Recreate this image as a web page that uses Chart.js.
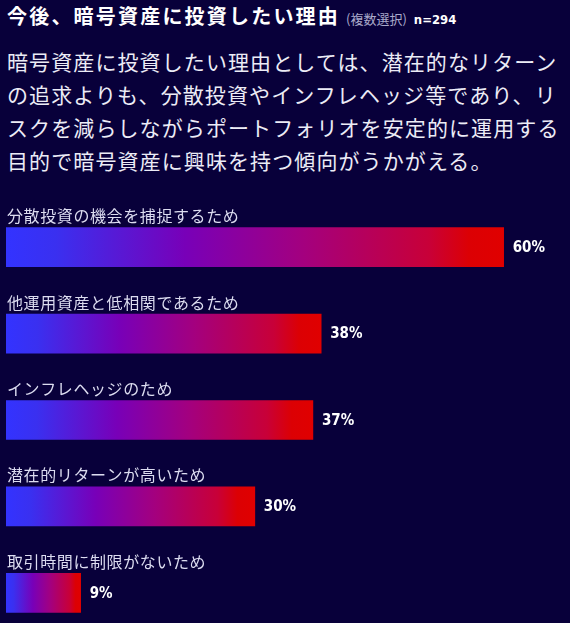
<!doctype html>
<html lang="ja">
<head>
<meta charset="utf-8">
<title>今後、暗号資産に投資したい理由</title>
<script src="https://cdn.jsdelivr.net/npm/chart.js@4.4.1/dist/chart.umd.min.js"></script>
<style>
  html, body { margin: 0; padding: 0; }
  body {
    width: 570px; height: 623px; overflow: hidden; position: relative;
    background: #08003a; color: #fff;
    font-family: "Noto Sans CJK JP", "Noto Sans", sans-serif;
  }
  #title {
    position: absolute; left: 7px; top: 4px; white-space: nowrap;
    font-size: 20px; line-height: 24px; font-weight: 700; letter-spacing: 2.2px;
  }
  #title .sub { font-size: 13px; font-weight: 400; color: #aaaaca; letter-spacing: 0; margin-left: 6px; }
  #title .n { font-size: 13px; font-weight: 700; letter-spacing: 0; margin-left: 7px; font-family: "DejaVu Sans Condensed", sans-serif; }
  #lead {
    position: absolute; left: 7px; top: 45px; width: 570px; white-space: nowrap;
    font-size: 21px; line-height: 33px; letter-spacing: 1.1px; color: #ececf6;
  }
  #wrap { position: absolute; left: 0; top: 204px; width: 570px; height: 432px; }
</style>
</head>
<body>
<div id="title">今後、暗号資産に投資したい理由<span class="sub">(複数選択)</span><span class="n">n=294</span></div>
<div id="lead">暗号資産に投資したい理由としては、潜在的なリターン<br>の追求よりも、分散投資やインフレヘッジ等であり、リ<br>スクを減らしながらポートフォリオを安定的に運用する<br>目的で暗号資産に興味を持つ傾向がうかがえる。</div>
<div id="wrap"><canvas id="chart"></canvas></div>
<script>
const reasons = [
  '分散投資の機会を捕捉するため',
  '他運用資産と低相関であるため',
  'インフレヘッジのため',
  '潜在的リターンが高いため',
  '取引時間に制限がないため'
];
const shares = [60, 38, 37, 30, 9];

// gradient per bar, from its base to its end
function barGradient(c) {
  const chart = c.chart;
  if (!chart.chartArea || c.dataIndex === undefined) return '#7a00b8';
  const x = chart.scales.x;
  const x0 = x.getPixelForValue(0);
  const x1 = x.getPixelForValue(c.raw);
  const g = chart.ctx.createLinearGradient(x0, 0, x1, 0);
  g.addColorStop(0, '#3333ff');
  g.addColorStop(0.1, '#3a30f0');
  g.addColorStop(0.36, '#7800b8');
  g.addColorStop(0.6, '#a4007e');
  g.addColorStop(0.85, '#c80038');
  g.addColorStop(0.93, '#dc0004');
  g.addColorStop(1, '#e00000');
  return g;
}

const labelPlugin = {
  id: 'labels',
  afterDatasetsDraw(chart) {
    const ctx = chart.ctx;
    const meta = chart.getDatasetMeta(0);
    ctx.save();
    meta.data.forEach((bar, i) => {
      ctx.textBaseline = 'middle';
      ctx.textAlign = 'left';
      ctx.fillStyle = '#dcdcf0';
      ctx.font = '16px "Noto Sans CJK JP", sans-serif';
      ctx.letterSpacing = '0.6px';
      ctx.fillText(reasons[i], chart.scales.x.getPixelForValue(0) + 1, bar.y - 31);
      ctx.fillStyle = '#ffffff';
      ctx.font = 'bold 15px "DejaVu Sans Condensed", sans-serif';
      ctx.letterSpacing = '0px';
      ctx.fillText(shares[i] + '%', bar.x + 9, bar.y + 1);
    });
    ctx.restore();
  }
};

new Chart(document.getElementById('chart'), {
  type: 'bar',
  data: {
    labels: reasons,
    datasets: [{
      data: shares,
      backgroundColor: barGradient,
      borderWidth: 0,
      barThickness: 39
    }]
  },
  options: {
    indexAxis: 'y',
    responsive: true,
    maintainAspectRatio: false,
    animation: false,
    layout: { padding: { left: 6, right: 0, top: 0, bottom: 0 } },
    plugins: { legend: { display: false }, tooltip: { enabled: false } },
    scales: {
      x: { min: 0, max: 68, display: false },
      y: { display: false }
    }
  },
  plugins: [labelPlugin]
});
</script>
</body>
</html>
